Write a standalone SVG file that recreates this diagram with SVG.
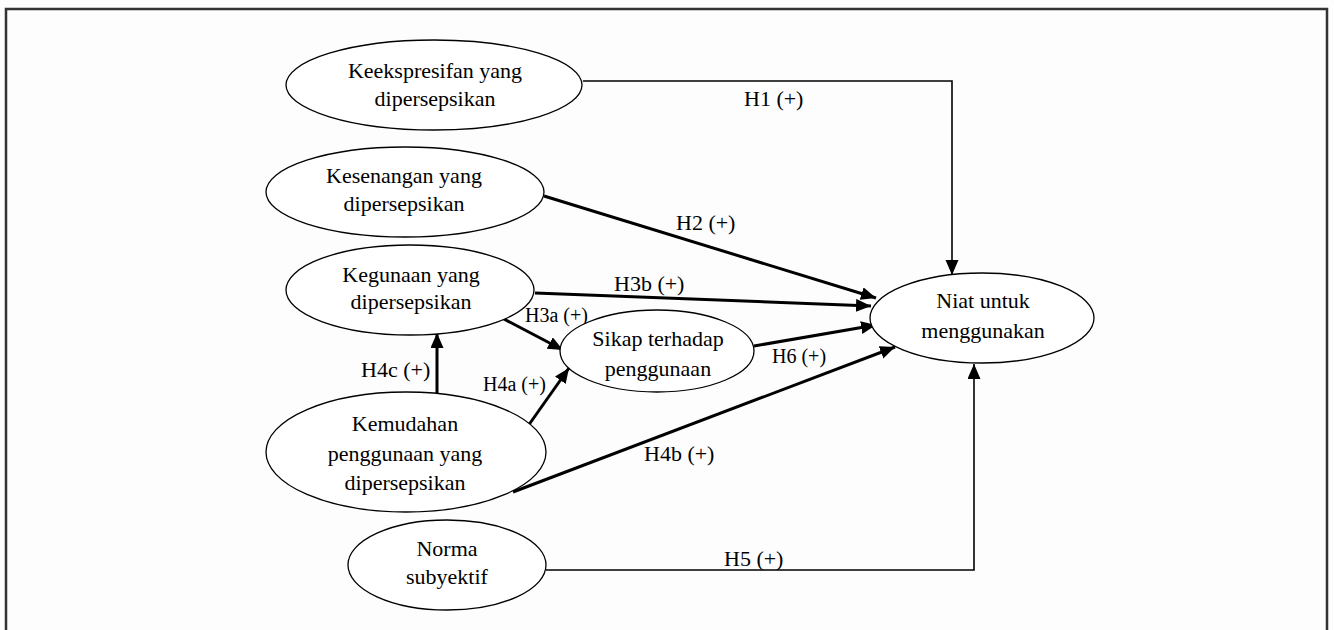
<svg xmlns="http://www.w3.org/2000/svg" width="1334" height="630" viewBox="0 0 1334 630">
<style>
.node ellipse{fill:#fff;stroke:#000;stroke-width:1.3}
.node text{font-family:"Liberation Serif","Times New Roman",serif;font-size:22px;text-anchor:middle;fill:#000}
.lbl{font-family:"Liberation Serif","Times New Roman",serif;font-size:22px;fill:#000}
.sm{font-size:20px}
.thin{stroke:#000;stroke-width:1.6;fill:none}
.thick{stroke:#000;stroke-width:3;fill:none}
</style>
<defs>
<marker id="ah" markerUnits="userSpaceOnUse" markerWidth="16" markerHeight="14" refX="15" refY="6.5" orient="auto">
<path d="M0,0 L15,6.5 L0,13 Z" fill="#000"/>
</marker>
</defs>
<rect x="0" y="0" width="1334" height="630" fill="#fdfdfd"/>
<path d="M6,632 V9 H1327 V632" fill="none" stroke="#333" stroke-width="2.5"/>
<g id="connectors">
<polyline class="thin" points="583,81 952,81 952,275" marker-end="url(#ah)"/>
<line class="thick" x1="544" y1="196" x2="876" y2="298" marker-end="url(#ah)"/>
<line class="thick" x1="535" y1="293" x2="871" y2="306" marker-end="url(#ah)"/>
<line class="thick" x1="502" y1="318" x2="563" y2="350" marker-end="url(#ah)"/>
<line class="thick" x1="437" y1="393" x2="437" y2="333" marker-end="url(#ah)"/>
<line class="thick" x1="528" y1="426" x2="569" y2="368" marker-end="url(#ah)"/>
<line class="thick" x1="754" y1="346" x2="876" y2="325" marker-end="url(#ah)"/>
<line class="thick" x1="513" y1="492" x2="895" y2="347" marker-end="url(#ah)"/>
<polyline class="thin" points="546,570 974,570 974,364" marker-end="url(#ah)"/>
<text class="lbl" x="744" y="106">H1 (+)</text>
<text class="lbl" x="676" y="230">H2 (+)</text>
<text class="lbl" x="614" y="291">H3b (+)</text>
<text class="lbl sm" x="525" y="322">H3a (+)</text>
<text class="lbl" x="361" y="377">H4c (+)</text>
<text class="lbl sm" x="483" y="391">H4a (+)</text>
<text class="lbl sm" x="772" y="363">H6 (+)</text>
<text class="lbl" x="644" y="461">H4b (+)</text>
<text class="lbl" x="724" y="566">H5 (+)</text>
</g>
<g id="n-keekspresifan" class="node">
<ellipse cx="434" cy="85" rx="148" ry="45"/>
<text x="435" y="78">Keekspresifan yang</text>
<text x="435" y="106">dipersepsikan</text>
</g>
<g id="n-kesenangan" class="node">
<ellipse cx="405" cy="192" rx="139" ry="45"/>
<text x="404" y="183">Kesenangan yang</text>
<text x="404" y="211">dipersepsikan</text>
</g>
<g id="n-kegunaan" class="node">
<ellipse cx="410" cy="290" rx="124" ry="45"/>
<text x="411" y="282">Kegunaan yang</text>
<text x="411" y="309">dipersepsikan</text>
</g>
<g id="n-sikap" class="node">
<ellipse cx="657" cy="351" rx="97" ry="41"/>
<text x="658" y="346">Sikap terhadap</text>
<text x="658" y="376">penggunaan</text>
</g>
<g id="n-kemudahan" class="node">
<ellipse cx="406" cy="452" rx="140" ry="60"/>
<text x="405" y="431">Kemudahan</text>
<text x="405" y="461">penggunaan yang</text>
<text x="405" y="490">dipersepsikan</text>
</g>
<g id="n-norma" class="node">
<ellipse cx="447" cy="565" rx="99" ry="45"/>
<text x="447" y="556">Norma</text>
<text x="447" y="584">subyektif</text>
</g>
<g id="n-niat" class="node">
<ellipse cx="982" cy="318" rx="112" ry="45"/>
<text x="983" y="308">Niat untuk</text>
<text x="983" y="338">menggunakan</text>
</g>
</svg>
